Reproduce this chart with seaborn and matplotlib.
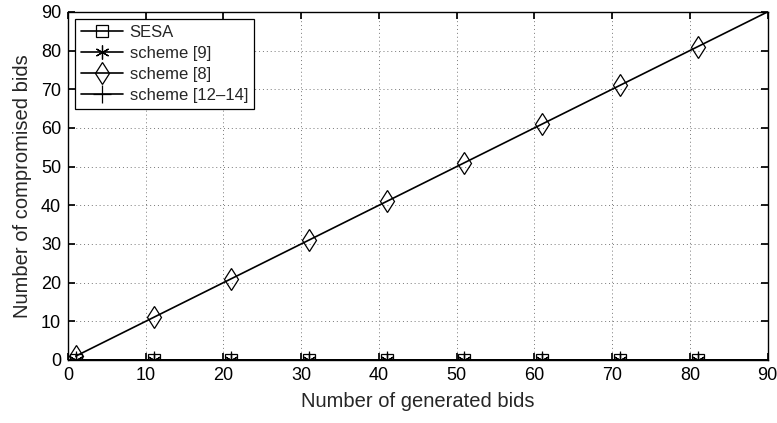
import numpy as np
import pandas as pd
import matplotlib
matplotlib.use("Agg")
import matplotlib.pyplot as plt
import seaborn as sns

bids = [1, 11, 21, 31, 41, 51, 61, 71, 81, 91]
sesa = [0, 0, 0, 0, 0, 0, 0, 0, 0, 0]
scheme9 = [0, 0, 0, 0, 0, 0, 0, 0, 0, 0]
scheme8 = [1, 11, 21, 31, 41, 51, 61, 71, 81, 91]
scheme12_14 = [0, 0, 0, 0, 0, 0, 0, 0, 0, 0]

sns.set_theme(style="ticks")
plt.rcParams['font.family'] = ['Liberation Sans', 'DejaVu Sans']

fig, ax = plt.subplots(figsize=(7.77, 4.23), dpi=100)

series = [("SESA", sesa, "s", 8.5), ("scheme [9]", scheme9, (6, 2, 0), 10),
          ("scheme [8]", scheme8, "d", 11.5), ("scheme [12\u201314]", scheme12_14, "+", 13)]
for name, vals, mk, ms in series:
    sns.lineplot(x=bids, y=vals, ax=ax, color="black", lw=1.2, marker=mk,
                 markersize=ms, markerfacecolor="none",
                 markeredgecolor="black", markeredgewidth=0.9, label=name)

ax.set_xlim(0, 90)
ax.set_ylim(0, 90)
ax.set_xticks(range(0, 91, 10))
ax.set_yticks(range(0, 91, 10))
ax.grid(True, linestyle=(0, (1, 3)), color="#777777", lw=0.7)
ax.tick_params(direction="in", length=5, labelsize=13, top=True, right=True, colors="black", pad=5)
for s in ax.spines.values():
    s.set_visible(True)
    s.set_color("black")
    s.set_linewidth(1.0)
ax.set_xlabel("Number of generated bids", fontsize=14.5, labelpad=6)
ax.set_ylabel("Number of compromised bids", fontsize=14.5, labelpad=6)

leg = ax.legend(loc="upper left", fontsize=12, frameon=True, fancybox=False,
                edgecolor="black", framealpha=1, borderaxespad=0.45,
                handlelength=2.5, labelspacing=0.35, borderpad=0.35, handletextpad=0.4)
leg.get_frame().set_linewidth(0.9)

fig.subplots_adjust(left=0.0875, right=0.988, top=0.972, bottom=0.149)
fig.savefig("out.png", dpi=100)
